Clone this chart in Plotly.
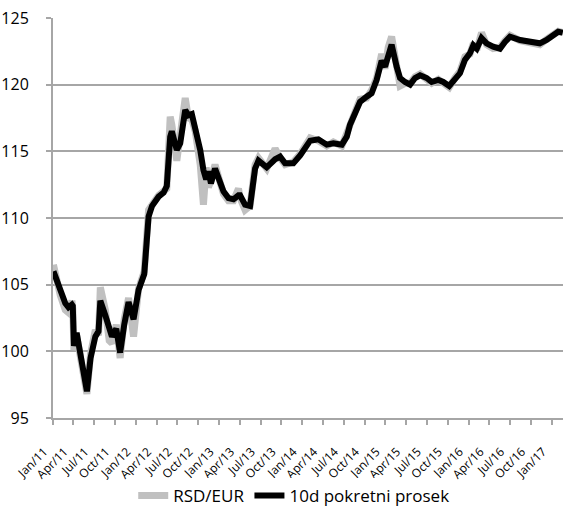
import plotly.graph_objects as go

dates = [
    "2011-01-03", "2011-01-18", "2011-02-02", "2011-02-24", "2011-03-10", "2011-03-25",
    "2011-03-29", "2011-04-03", "2011-04-15", "2011-04-25", "2011-05-10", "2011-05-30",
    "2011-06-15", "2011-07-06", "2011-07-20", "2011-07-28", "2011-08-19", "2011-09-05",
    "2011-09-17", "2011-10-06", "2011-10-23", "2011-11-10", "2011-11-29", "2011-12-21",
    "2012-01-12", "2012-02-06", "2012-02-25", "2012-03-11", "2012-04-09", "2012-05-01",
    "2012-05-15", "2012-05-30", "2012-06-06", "2012-06-28", "2012-07-13", "2012-08-04",
    "2012-08-18", "2012-09-02", "2012-09-17", "2012-10-09", "2012-10-23", "2012-11-04",
    "2012-11-14", "2012-11-25", "2012-12-13", "2012-12-28", "2013-01-19", "2013-02-10",
    "2013-03-04", "2013-03-26", "2013-04-02", "2013-04-24", "2013-05-16", "2013-06-07",
    "2013-06-22", "2013-07-28", "2013-09-03", "2013-09-25", "2013-10-17", "2013-11-22",
    "2013-12-22", "2014-02-04", "2014-03-12", "2014-04-18", "2014-05-17", "2014-06-23",
    "2014-07-15", "2014-07-29", "2014-08-13", "2014-09-11", "2014-10-10", "2014-11-01",
    "2014-11-23", "2014-12-15", "2014-12-30", "2015-01-13", "2015-01-28", "2015-02-19",
    "2015-03-06", "2015-03-28", "2015-04-19", "2015-05-11", "2015-06-02", "2015-07-01",
    "2015-07-23", "2015-08-21", "2015-09-12", "2015-10-08", "2015-11-02", "2015-11-24",
    "2015-12-16", "2016-01-07", "2016-01-22", "2016-02-06", "2016-02-27", "2016-03-20",
    "2016-04-18", "2016-05-18", "2016-06-09", "2016-07-01", "2016-08-14", "2016-09-27",
    "2016-11-09", "2016-12-09", "2017-01-07", "2017-01-29", "2017-02-18",
]

rsd_eur = [
    106.5, 105.0, 104.2, 103.1, 102.9, 103.8,
    103.2, 100.1, 101.2, 100.2, 98.6, 96.8,
    99.8, 101.6, 101.2, 104.8, 103.1, 100.8,
    100.6, 102.0, 99.5, 102.4, 104.0, 101.1,
    104.7, 106.0, 110.6, 111.0, 111.7, 112.0,
    112.2, 117.6, 117.0, 114.3, 115.9, 119.0,
    117.5, 117.4, 116.5, 114.0, 111.0, 113.8,
    112.3, 112.8, 114.0, 112.9, 111.8, 111.3,
    111.3, 112.2, 111.5, 110.6, 110.9, 114.0,
    114.5, 113.7, 115.2, 114.5, 114.0, 114.2,
    114.8, 116.0, 115.8, 115.4, 115.7, 115.4,
    116.3, 117.2, 117.7, 118.9, 119.0, 119.6,
    120.5, 122.3, 121.2, 122.8, 123.6, 120.9,
    119.9, 120.1, 120.1, 120.6, 120.8, 120.4,
    120.1, 120.4, 120.1, 119.8, 120.5, 121.0,
    122.1, 122.3, 123.1, 122.6, 123.9, 123.0,
    122.7, 122.8, 123.3, 123.7, 123.3, 123.2,
    123.0, 123.4, 123.8, 124.0, 123.9,
]

ma_10d = [
    106.0, 105.3, 104.5, 103.6, 103.3, 103.5,
    103.4, 100.4, 101.4, 100.5, 98.8, 97.0,
    99.5, 101.1, 101.5, 103.8, 102.7, 101.8,
    101.1, 101.7, 99.9, 102.0, 103.7, 102.4,
    104.6, 105.8, 110.1, 110.9, 111.6, 111.9,
    112.4, 116.1, 116.5, 115.1, 115.6, 118.1,
    117.7, 117.8, 116.8, 115.1, 113.6, 112.9,
    113.5, 112.6, 113.7, 113.1, 112.0, 111.5,
    111.4, 111.7, 111.7, 111.0, 110.9, 113.7,
    114.3, 113.8, 114.4, 114.6, 114.1, 114.1,
    114.7, 115.8, 115.9, 115.5, 115.6, 115.5,
    116.1, 117.0, 117.5, 118.7, 119.1, 119.35,
    120.35, 121.8, 121.35, 122.35, 123.0, 121.35,
    120.5, 120.2, 120.0, 120.5, 120.7, 120.5,
    120.2, 120.35, 120.2, 119.9, 120.35, 120.85,
    121.85, 122.35, 122.95, 122.7, 123.5, 123.1,
    122.85, 122.7, 123.2, 123.6, 123.35, 123.2,
    123.1, 123.35, 123.7, 123.97, 123.9,
]

y_ticks = [95, 100, 105, 110, 115, 120, 125]
series_names = ["RSD/EUR", "10d pokretni prosek"]

FONT = "Open Sans, Noto Sans, sans-serif"
AXIS_GRAY = "#a6a6a6"

fig = go.Figure()
fig.add_trace(go.Scatter(
    x=dates, y=rsd_eur, name=series_names[0], mode="lines",
    line=dict(color="#c0c0c0", width=7),
))
fig.add_trace(go.Scatter(
    x=dates, y=ma_10d, name=series_names[1], mode="lines",
    line=dict(color="#000000", width=6),
))

fig.update_layout(
    width=564, height=506,
    margin=dict(l=53, r=1, t=18, b=88, autoexpand=False),
    paper_bgcolor="white", plot_bgcolor="white",
    font=dict(family=FONT, color="#000000"),
    showlegend=True,
    legend=dict(
        orientation="h", x=0.472, xanchor="center", y=-0.195, yanchor="middle",
        font=dict(size=17, family=FONT), itemwidth=30,
    ),
)
fig.update_xaxes(
    type="date", range=["2011-01-01", "2017-02-19"], automargin=False,
    tick0="2011-01-01", dtick="M3", tickformat="%b/%y", tickangle=-45,
    ticks="outside", ticklen=5, tickcolor=AXIS_GRAY, tickwidth=1.5,
    showline=True, linecolor=AXIS_GRAY, linewidth=2,
    showgrid=False, zeroline=False,
    tickfont=dict(size=12, family=FONT),
    ticklabelshift=-9, ticklabelstandoff=15,
)
fig.update_yaxes(
    range=[95, 125], tickvals=y_ticks, automargin=False,
    ticks="outside", ticklen=5, tickcolor=AXIS_GRAY, tickwidth=1.5,
    showline=True, linecolor=AXIS_GRAY, linewidth=2,
    showgrid=True, gridcolor=AXIS_GRAY, gridwidth=1.5, zeroline=False,
    tickfont=dict(size=16, family=FONT), ticklabelstandoff=14,
)

fig.write_html(
    "out.html",
    config={"displayModeBar": False},
    post_script="document.body.style.margin='0px';document.body.style.padding='0px';",
)
